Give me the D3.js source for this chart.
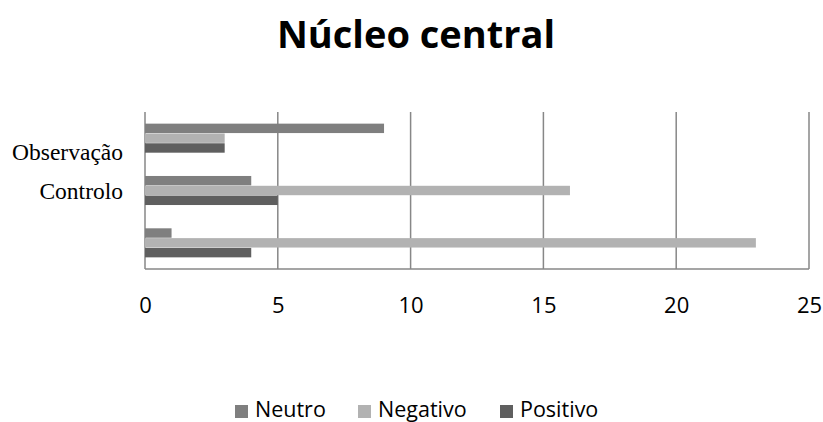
<!DOCTYPE html>
<html>
<head>
<meta charset="utf-8">
<script src="https://cdn.jsdelivr.net/npm/d3@7/dist/d3.min.js"></script>
<style>
  html, body { margin: 0; padding: 0; background: #fff; }
  svg { display: block; }
</style>
</head>
<body>
<svg id="chart" width="823" height="422"></svg>
<script>
// Categories, top to bottom
const categories = ["Observação", "Controlo", ""];
const seriesNames = ["Neutro", "Negativo", "Positivo"];
const neutro   = [9, 4, 1];
const negativo = [3, 16, 23];
const positivo = [3, 5, 4];
const xTicks = [0, 5, 10, 15, 20, 25];
const colors = ["#7f7f7f", "#b2b2b2", "#5f5f5f"];

const values = [neutro, negativo, positivo];
const svg = d3.select("#chart");
const plot = { left: 145, right: 809, top: 112, bottom: 269 };

const x = d3.scaleLinear().domain([0, 25]).range([plot.left, plot.right]);
const y = d3.scaleBand().domain(categories).range([plot.top, plot.bottom])
  .paddingInner(0.43).paddingOuter(0.215);
const ySeries = d3.scaleBand().domain(seriesNames).range([0, y.bandwidth()]).padding(0.04);

// Title
svg.append("text")
  .attr("x", 416).attr("y", 48)
  .attr("text-anchor", "middle")
  .style("font-family", "'Open Sans', sans-serif")
  .style("font-weight", "bold")
  .style("font-size", "38px")
  .attr("fill", "#000")
  .text("Núcleo central");

// Vertical gridlines
svg.append("g")
  .selectAll("line")
  .data(xTicks)
  .join("line")
  .attr("x1", d => x(d)).attr("x2", d => x(d))
  .attr("y1", plot.top).attr("y2", plot.bottom)
  .attr("stroke", "#878787").attr("stroke-width", 1.5);

// Bottom axis line
svg.append("line")
  .attr("x1", plot.left).attr("x2", plot.right)
  .attr("y1", plot.bottom).attr("y2", plot.bottom)
  .attr("stroke", "#878787").attr("stroke-width", 1.5);

// Bars
const groups = svg.append("g").selectAll("g")
  .data(categories)
  .join("g")
  .attr("transform", d => `translate(0,${y(d)})`);

groups.selectAll("rect")
  .data((d, i) => seriesNames.map((s, j) => ({ s, j, v: values[j][i] })))
  .join("rect")
  .attr("x", x(0))
  .attr("y", d => ySeries(d.s))
  .attr("height", ySeries.bandwidth())
  .attr("width", d => x(d.v) - x(0))
  .attr("fill", d => colors[d.j]);

// Value axis tick labels
const xAxis = d3.axisBottom(x).tickValues(xTicks).tickSize(0).tickPadding(0);
const gx = svg.append("g").attr("transform", `translate(0,${plot.bottom})`).call(xAxis);
gx.select(".domain").remove();
gx.selectAll("text")
  .attr("dy", 0).attr("y", 44)
  .style("font-family", "'Open Sans', sans-serif")
  .style("font-size", "22px")
  .attr("fill", "#000");

// Category labels
const yAxis = d3.axisLeft(y).tickSize(0).tickPadding(22);
const gy = svg.append("g").attr("transform", `translate(${plot.left},0)`).call(yAxis);
gy.select(".domain").remove();
gy.selectAll("text")
  .attr("dy", (d, i) => i === 0 ? "0.95em" : "0.34em")
  .style("font-family", "'Liberation Serif', 'Times New Roman', serif")
  .style("font-size", "23.5px")
  .attr("fill", "#000");

// Legend
const legendItems = [
  { name: seriesNames[0], color: colors[0], x: 235 },
  { name: seriesNames[1], color: colors[1], x: 358 },
  { name: seriesNames[2], color: colors[2], x: 500 }
];
const legend = svg.append("g");
const li = legend.selectAll("g").data(legendItems).join("g")
  .attr("transform", d => `translate(${d.x},0)`);
li.append("rect").attr("x", 0).attr("y", 405).attr("width", 13).attr("height", 13)
  .attr("fill", d => d.color);
li.append("text").attr("x", 20).attr("y", 417)
  .style("font-family", "'Open Sans', sans-serif")
  .style("font-size", "21.5px")
  .attr("fill", "#000")
  .text(d => d.name);
</script>
</body>
</html>
